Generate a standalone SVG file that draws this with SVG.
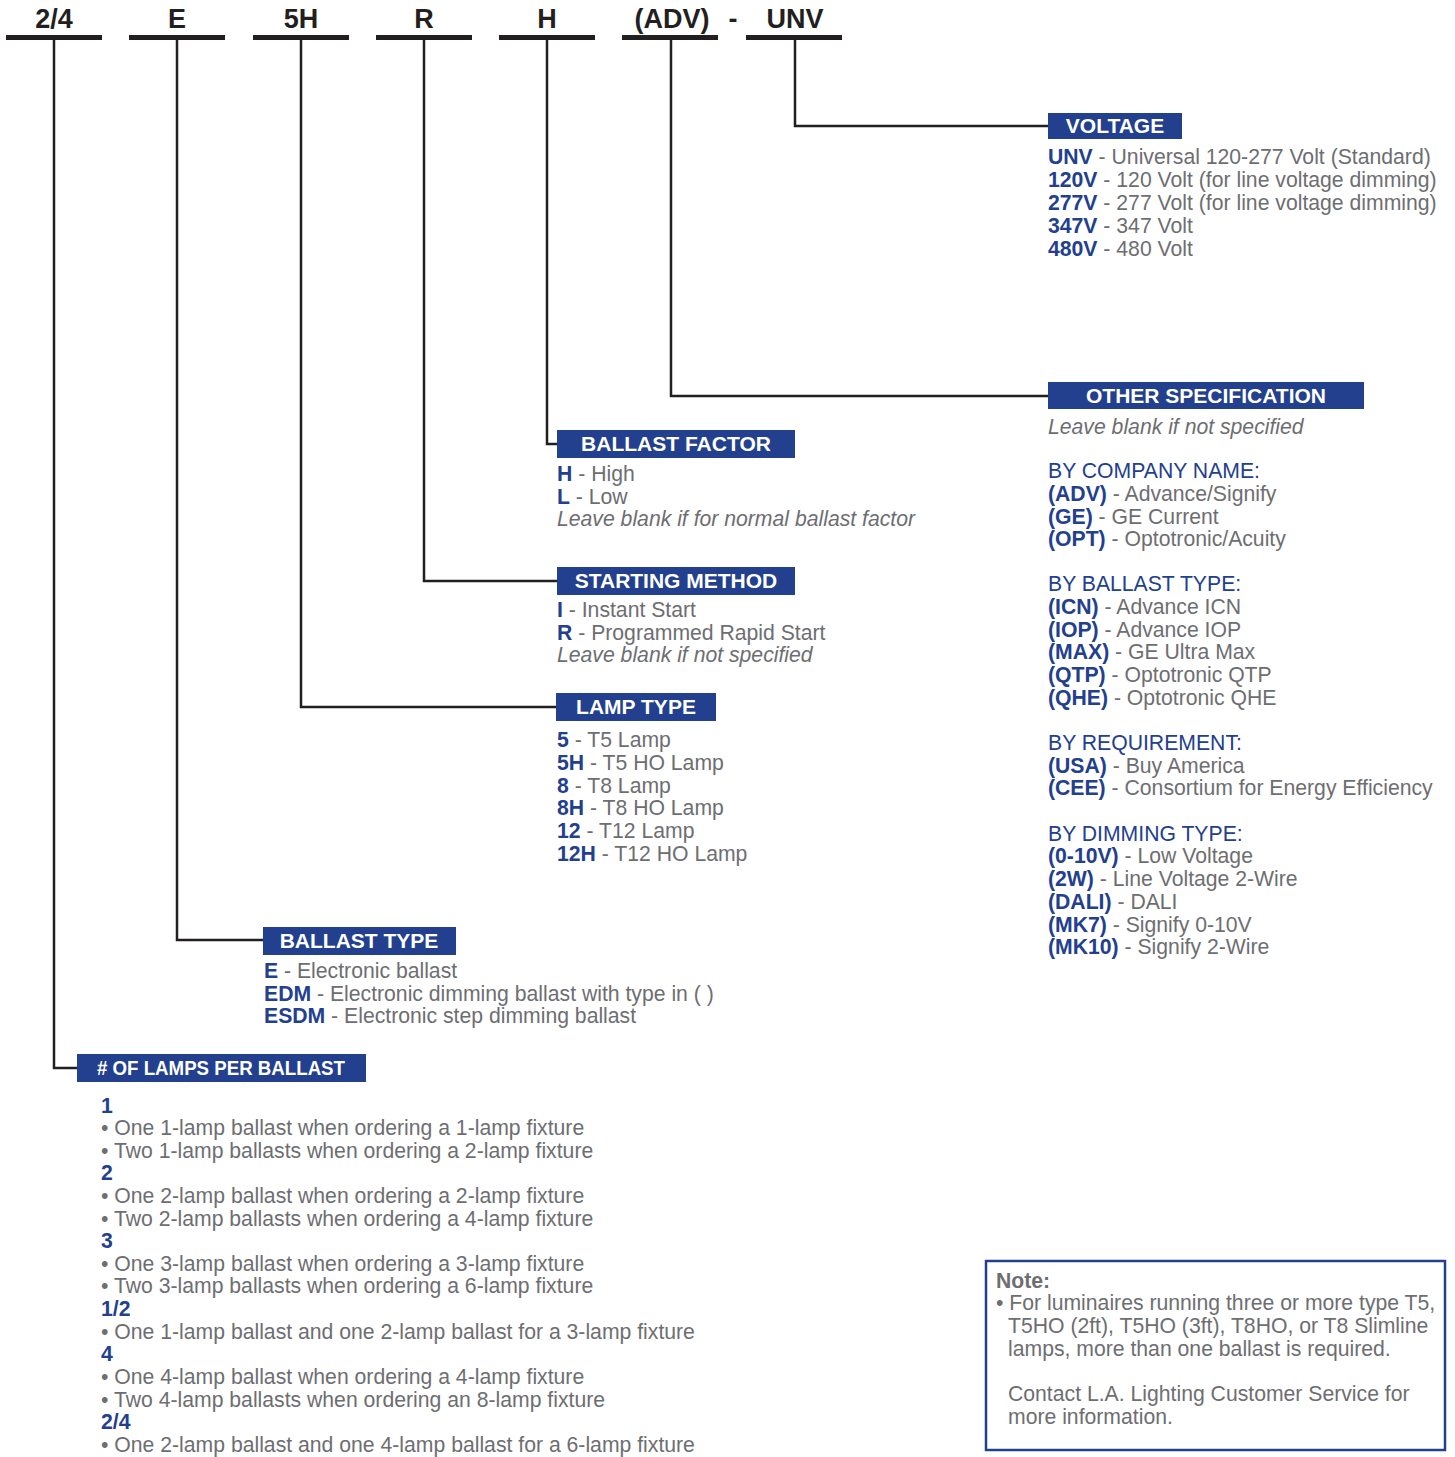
<svg xmlns="http://www.w3.org/2000/svg" width="1455" height="1457" viewBox="0 0 1455 1457">
<style>
.code{font-family:"Liberation Sans",Arial,sans-serif;font-weight:bold;font-size:27px;fill:#231f20;text-anchor:middle}
.bar{fill:#231f20}
.hb{fill:#22408e}
.ht{font-family:"Liberation Sans",Arial,sans-serif;font-weight:bold;font-size:21px;fill:#fff;text-anchor:middle}
.t{font-family:"Liberation Sans",Arial,sans-serif;font-size:21.2px;fill:#6d6e71}
.b{font-weight:bold;fill:#22408e}
.i{font-style:italic}
.sec{fill:#22408e}
.con{fill:none;stroke:#231f20;stroke-width:2.5}
</style>
<rect width="1455" height="1457" fill="#fff"/>
<g id="codes">
<rect class="bar" x="6" y="35" width="96" height="5"/>
<rect class="bar" x="129" y="35" width="96" height="5"/>
<rect class="bar" x="253" y="35" width="96" height="5"/>
<rect class="bar" x="376" y="35" width="96" height="5"/>
<rect class="bar" x="499" y="35" width="96" height="5"/>
<rect class="bar" x="622" y="35" width="96" height="5"/>
<rect class="bar" x="746" y="35" width="96" height="5"/>
<text class="code" x="54" y="28">2/4</text>
<text class="code" x="177" y="28">E</text>
<text class="code" x="301" y="28">5H</text>
<text class="code" x="424" y="28">R</text>
<text class="code" x="547" y="28">H</text>
<text class="code" x="672" y="28">(ADV)</text>
<text class="code" x="733" y="28">-</text>
<text class="code" x="795" y="28">UNV</text>
</g>
<g id="connectors">
<polyline class="con" points="795,40 795,126 1048,126"/>
<polyline class="con" points="671,40 671,396 1048,396"/>
<polyline class="con" points="547,40 547,444 557,444"/>
<polyline class="con" points="424,40 424,581 557,581"/>
<polyline class="con" points="301,40 301,707 556,707"/>
<polyline class="con" points="177,40 177,940 263,940"/>
<polyline class="con" points="54,40 54,1068 77,1068"/>
</g>
<g id="voltage">
<rect class="hb" x="1048" y="113" width="134" height="26"/>
<text class="ht" x="1115" y="133">VOLTAGE</text>
<text class="t" x="1048" y="164"><tspan class="b">UNV</tspan> - Universal 120-277 Volt (Standard)</text>
<text class="t" x="1048" y="187"><tspan class="b">120V</tspan> - 120 Volt (for line voltage dimming)</text>
<text class="t" x="1048" y="210"><tspan class="b">277V</tspan> - 277 Volt (for line voltage dimming)</text>
<text class="t" x="1048" y="233"><tspan class="b">347V</tspan> - 347 Volt</text>
<text class="t" x="1048" y="256"><tspan class="b">480V</tspan> - 480 Volt</text>
</g>
<g id="other-specification">
<rect class="hb" x="1048" y="382" width="316" height="27"/>
<text class="ht" x="1206" y="403">OTHER SPECIFICATION</text>
<text class="t i" x="1048" y="434">Leave blank if not specified</text>
<text class="t sec" x="1048" y="478">BY COMPANY NAME:</text>
<text class="t" x="1048" y="501"><tspan class="b">(ADV)</tspan> - Advance/Signify</text>
<text class="t" x="1048" y="524"><tspan class="b">(GE)</tspan> - GE Current</text>
<text class="t" x="1048" y="546"><tspan class="b">(OPT)</tspan> - Optotronic/Acuity</text>
<text class="t sec" x="1048" y="591">BY BALLAST TYPE:</text>
<text class="t" x="1048" y="614"><tspan class="b">(ICN)</tspan> - Advance ICN</text>
<text class="t" x="1048" y="637"><tspan class="b">(IOP)</tspan> - Advance IOP</text>
<text class="t" x="1048" y="659"><tspan class="b">(MAX)</tspan> - GE Ultra Max</text>
<text class="t" x="1048" y="682"><tspan class="b">(QTP)</tspan> - Optotronic QTP</text>
<text class="t" x="1048" y="705"><tspan class="b">(QHE)</tspan> - Optotronic QHE</text>
<text class="t sec" x="1048" y="750">BY REQUIREMENT:</text>
<text class="t" x="1048" y="773"><tspan class="b">(USA)</tspan> - Buy America</text>
<text class="t" x="1048" y="795"><tspan class="b">(CEE)</tspan> - Consortium for Energy Efficiency</text>
<text class="t sec" x="1048" y="841">BY DIMMING TYPE:</text>
<text class="t" x="1048" y="863"><tspan class="b">(0-10V)</tspan> - Low Voltage</text>
<text class="t" x="1048" y="886"><tspan class="b">(2W)</tspan> - Line Voltage 2-Wire</text>
<text class="t" x="1048" y="909"><tspan class="b">(DALI)</tspan> - DALI</text>
<text class="t" x="1048" y="932"><tspan class="b">(MK7)</tspan> - Signify 0-10V</text>
<text class="t" x="1048" y="954"><tspan class="b">(MK10)</tspan> - Signify 2-Wire</text>
</g>
<g id="ballast-factor">
<rect class="hb" x="557" y="430" width="238" height="28"/>
<text class="ht" x="676" y="451">BALLAST FACTOR</text>
<text class="t" x="557" y="481"><tspan class="b">H</tspan> - High</text>
<text class="t" x="557" y="504"><tspan class="b">L</tspan> - Low</text>
<text class="t i" x="557" y="526">Leave blank if for normal ballast factor</text>
</g>
<g id="starting-method">
<rect class="hb" x="557" y="567" width="238" height="28"/>
<text class="ht" x="676" y="588">STARTING METHOD</text>
<text class="t" x="557" y="617"><tspan class="b">I</tspan> - Instant Start</text>
<text class="t" x="557" y="640"><tspan class="b">R</tspan> - Programmed Rapid Start</text>
<text class="t i" x="557" y="662">Leave blank if not specified</text>
</g>
<g id="lamp-type">
<rect class="hb" x="556" y="693" width="160" height="28"/>
<text class="ht" x="636" y="714">LAMP TYPE</text>
<text class="t" x="557" y="747"><tspan class="b">5</tspan> - T5 Lamp</text>
<text class="t" x="557" y="770"><tspan class="b">5H</tspan> - T5 HO Lamp</text>
<text class="t" x="557" y="793"><tspan class="b">8</tspan> - T8 Lamp</text>
<text class="t" x="557" y="815"><tspan class="b">8H</tspan> - T8 HO Lamp</text>
<text class="t" x="557" y="838"><tspan class="b">12</tspan> - T12 Lamp</text>
<text class="t" x="557" y="861"><tspan class="b">12H</tspan> - T12 HO Lamp</text>
</g>
<g id="ballast-type">
<rect class="hb" x="263" y="927" width="193" height="28"/>
<text class="ht" x="359" y="948">BALLAST TYPE</text>
<text class="t" x="264" y="978"><tspan class="b">E</tspan> - Electronic ballast</text>
<text class="t" x="264" y="1001"><tspan class="b">EDM</tspan> - Electronic dimming ballast with type in ( )</text>
<text class="t" x="264" y="1023"><tspan class="b">ESDM</tspan> - Electronic step dimming ballast</text>
</g>
<g id="lamps-per-ballast">
<rect class="hb" x="77" y="1054" width="289" height="28"/>
<text class="ht" x="221" y="1075" textLength="248" lengthAdjust="spacingAndGlyphs">#  OF LAMPS PER BALLAST</text>
<text class="t b" x="101" y="1113">1</text>
<text class="t" x="101" y="1135">• One 1-lamp ballast when ordering a 1-lamp fixture</text>
<text class="t" x="101" y="1158">• Two 1-lamp ballasts when ordering a 2-lamp fixture</text>
<text class="t b" x="101" y="1180">2</text>
<text class="t" x="101" y="1203">• One 2-lamp ballast when ordering a 2-lamp fixture</text>
<text class="t" x="101" y="1226">• Two 2-lamp ballasts when ordering a 4-lamp fixture</text>
<text class="t b" x="101" y="1248">3</text>
<text class="t" x="101" y="1271">• One 3-lamp ballast when ordering a 3-lamp fixture</text>
<text class="t" x="101" y="1293">• Two 3-lamp ballasts when ordering a 6-lamp fixture</text>
<text class="t b" x="101" y="1316">1/2</text>
<text class="t" x="101" y="1339">• One 1-lamp ballast and one 2-lamp ballast for a 3-lamp fixture</text>
<text class="t b" x="101" y="1361">4</text>
<text class="t" x="101" y="1384">• One 4-lamp ballast when ordering a 4-lamp fixture</text>
<text class="t" x="101" y="1407">• Two 4-lamp ballasts when ordering an 8-lamp fixture</text>
<text class="t b" x="101" y="1429">2/4</text>
<text class="t" x="101" y="1452">• One 2-lamp ballast and one 4-lamp ballast for a 6-lamp fixture</text>
</g>
<g id="note">
<rect x="986" y="1261" width="459" height="189" fill="none" stroke="#22408e" stroke-width="2.5"/>
<text class="t" x="996" y="1288" font-weight="bold">Note:</text>
<text class="t" x="996" y="1310">• For luminaires running three or more type T5,</text>
<text class="t" x="1008" y="1333">T5HO (2ft), T5HO (3ft), T8HO, or T8 Slimline</text>
<text class="t" x="1008" y="1356">lamps, more than one ballast is required.</text>
<text class="t" x="1008" y="1401">Contact L.A. Lighting Customer Service for</text>
<text class="t" x="1008" y="1424">more information.</text>
</g>
</svg>
